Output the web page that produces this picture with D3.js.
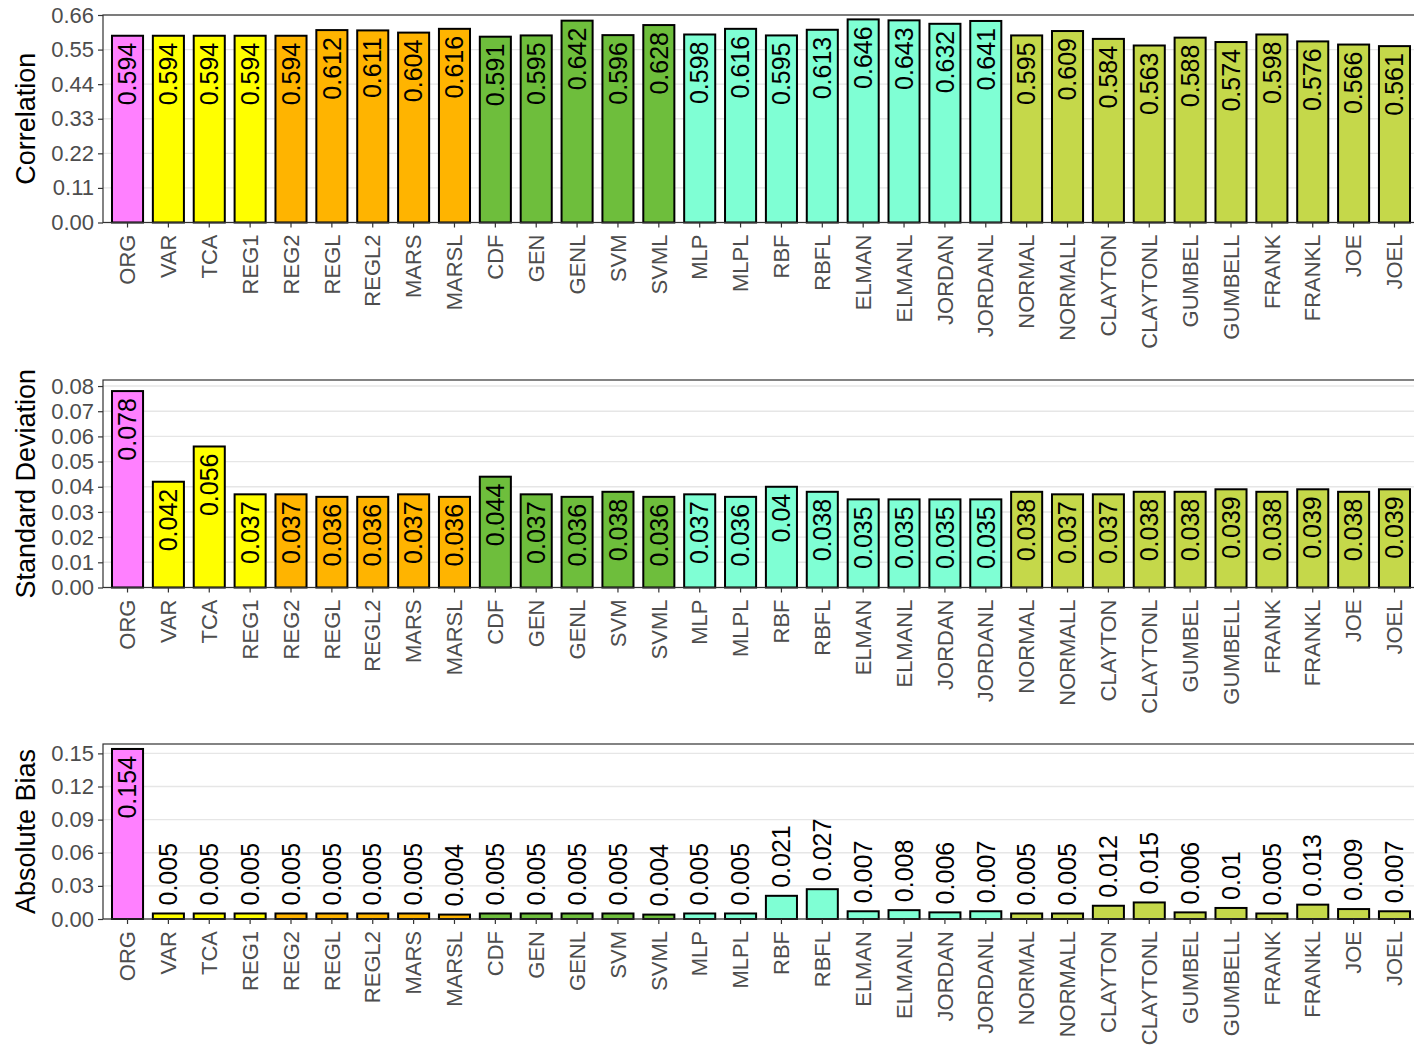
<!DOCTYPE html>
<html>
<head>
<meta charset="utf-8">
<script src="https://cdn.jsdelivr.net/npm/d3@7"></script>
<style>
  html, body { margin: 0; padding: 0; background: #fff; }
  svg { display: block; font-family: "Liberation Sans", Arial, sans-serif; }
</style>
</head>
<body>
<svg id="chart" width="1414" height="1051"></svg>
<script>
// Methods compared
const methods = ["ORG","VAR","TCA","REG1","REG2","REGL","REGL2","MARS","MARSL",
  "CDF","GEN","GENL","SVM","SVML","MLP","MLPL","RBF","RBFL","ELMAN","ELMANL",
  "JORDAN","JORDANL","NORMAL","NORMALL","CLAYTON","CLAYTONL","GUMBEL","GUMBELL",
  "FRANK","FRANKL","JOE","JOEL"];

// Method family of each bar (drives the fill colour)
const families = ["org","simple","simple","simple","reg","reg","reg","reg","reg",
  "ml1","ml1","ml1","ml1","ml1","nn","nn","nn","nn","nn","nn","nn","nn",
  "cop","cop","cop","cop","cop","cop","cop","cop","cop","cop"];

const correlation = [0.594,0.594,0.594,0.594,0.594,0.612,0.611,0.604,0.616,
  0.591,0.595,0.642,0.596,0.628,0.598,0.616,0.595,0.613,0.646,0.643,
  0.632,0.641,0.595,0.609,0.584,0.563,0.588,0.574,0.598,0.576,0.566,0.561];

const stdDev = [0.078,0.042,0.056,0.037,0.037,0.036,0.036,0.037,0.036,
  0.044,0.037,0.036,0.038,0.036,0.037,0.036,0.04,0.038,0.035,0.035,
  0.035,0.035,0.038,0.037,0.037,0.038,0.038,0.039,0.038,0.039,0.038,0.039];

const absBias = [0.154,0.005,0.005,0.005,0.005,0.005,0.005,0.005,0.004,
  0.005,0.005,0.005,0.005,0.004,0.005,0.005,0.021,0.027,0.007,0.008,
  0.006,0.007,0.005,0.005,0.012,0.015,0.006,0.01,0.005,0.013,0.009,0.007];

const corrTicks = [0, 0.11, 0.22, 0.33, 0.44, 0.55, 0.66];
const sdTicks = [0, 0.01, 0.02, 0.03, 0.04, 0.05, 0.06, 0.07, 0.08];
const biasTicks = [0, 0.03, 0.06, 0.09, 0.12, 0.15];

const familyColor = {
  org: "#ff80ff",
  simple: "#ffff00",
  reg: "#ffb400",
  ml1: "#6ebe3c",
  nn: "#7fffd4",
  cop: "#c5d84a"
};

const svg = d3.select("#chart");
const W = 1414;
const plotLeft = 103;
const plotRight = 1419;

const x = d3.scaleBand()
  .domain(methods)
  .range([plotLeft, plotRight])
  .paddingInner(0.24)
  .paddingOuter(0.22);

const panels = [
  { title: "Correlation", values: correlation, ticks: corrTicks, fmt: d3.format(".2f"),
    yMax: 0.66, top: 15, bottom: 222.5 },
  { title: "Standard Deviation", values: stdDev, ticks: sdTicks, fmt: d3.format(".2f"),
    yMax: 0.0824, top: 380, bottom: 587.5 },
  { title: "Absolute Bias", values: absBias, ticks: biasTicks, fmt: d3.format(".2f"),
    yMax: 0.1585, top: 744, bottom: 919 }
];

svg.append("defs").append("clipPath").attr("id", "vp")
  .append("rect").attr("x", 0).attr("y", 0).attr("width", W).attr("height", 1051);

panels.forEach(p => {
  const y = d3.scaleLinear().domain([0, p.yMax]).range([p.bottom, p.top]);
  const g = svg.append("g").attr("clip-path", "url(#vp)");

  // horizontal grid
  g.append("g").selectAll("line").data(p.ticks).join("line")
    .attr("x1", plotLeft).attr("x2", plotRight)
    .attr("y1", d => y(d)).attr("y2", d => y(d))
    .attr("stroke", "#e6e6e6").attr("stroke-width", 1.4);

  // bars
  g.append("g").selectAll("rect").data(methods).join("rect")
    .attr("x", d => x(d))
    .attr("width", x.bandwidth())
    .attr("y", (d, i) => y(p.values[i]))
    .attr("height", (d, i) => y(0) - y(p.values[i]))
    .attr("fill", (d, i) => familyColor[families[i]])
    .attr("stroke", "#000")
    .attr("stroke-width", 2);

  // panel border
  g.append("rect")
    .attr("x", plotLeft).attr("y", p.top)
    .attr("width", plotRight - plotLeft).attr("height", p.bottom - p.top)
    .attr("fill", "none").attr("stroke", "#333").attr("stroke-width", 1.2);

  // value labels: inside bars tall enough to hold them, above the rest
  const fits = v => (y(0) - y(v)) > 75;
  g.append("g").selectAll("text").data(methods).join("text")
    .attr("transform", (d, i) => {
      const v = p.values[i];
      const yy = fits(v) ? y(v) + 7 : y(v) - 8;
      return `translate(${x(d) + x.bandwidth() / 2},${yy}) rotate(-90)`;
    })
    .attr("text-anchor", (d, i) => fits(p.values[i]) ? "end" : "start")
    .attr("dy", "0.35em")
    .attr("font-size", 25)
    .attr("fill", "#000")
    .text((d, i) => String(p.values[i]));

  // y axis
  const yAxis = d3.axisLeft(y).tickValues(p.ticks).tickFormat(p.fmt).tickSize(5).tickPadding(4);
  const ya = svg.append("g").attr("transform", `translate(${plotLeft},0)`).call(yAxis);
  ya.select(".domain").remove();
  ya.selectAll(".tick line").attr("stroke", "#333").attr("stroke-width", 1.2);
  ya.selectAll(".tick text").attr("fill", "#4d4d4d").attr("font-size", 22)
    .attr("font-family", "Liberation Sans, Arial, sans-serif");

  // x axis
  const xAxis = d3.axisBottom(x).tickSize(5).tickPadding(6);
  const xa = svg.append("g").attr("transform", `translate(0,${p.bottom})`).call(xAxis);
  xa.select(".domain").remove();
  xa.selectAll(".tick line").attr("stroke", "#333").attr("stroke-width", 1.2);
  xa.selectAll(".tick text")
    .attr("fill", "#4d4d4d").attr("font-size", 22)
    .attr("font-family", "Liberation Sans, Arial, sans-serif")
    .attr("text-anchor", "end")
    .attr("transform", "rotate(-90)")
    .attr("x", -12).attr("y", 0).attr("dy", "0.35em");

  // y title
  svg.append("text")
    .attr("transform", `translate(35,${(p.top + p.bottom) / 2}) rotate(-90)`)
    .attr("text-anchor", "middle")
    .attr("font-size", 27)
    .attr("fill", "#000")
    .text(p.title);
});
</script>
</body>
</html>
